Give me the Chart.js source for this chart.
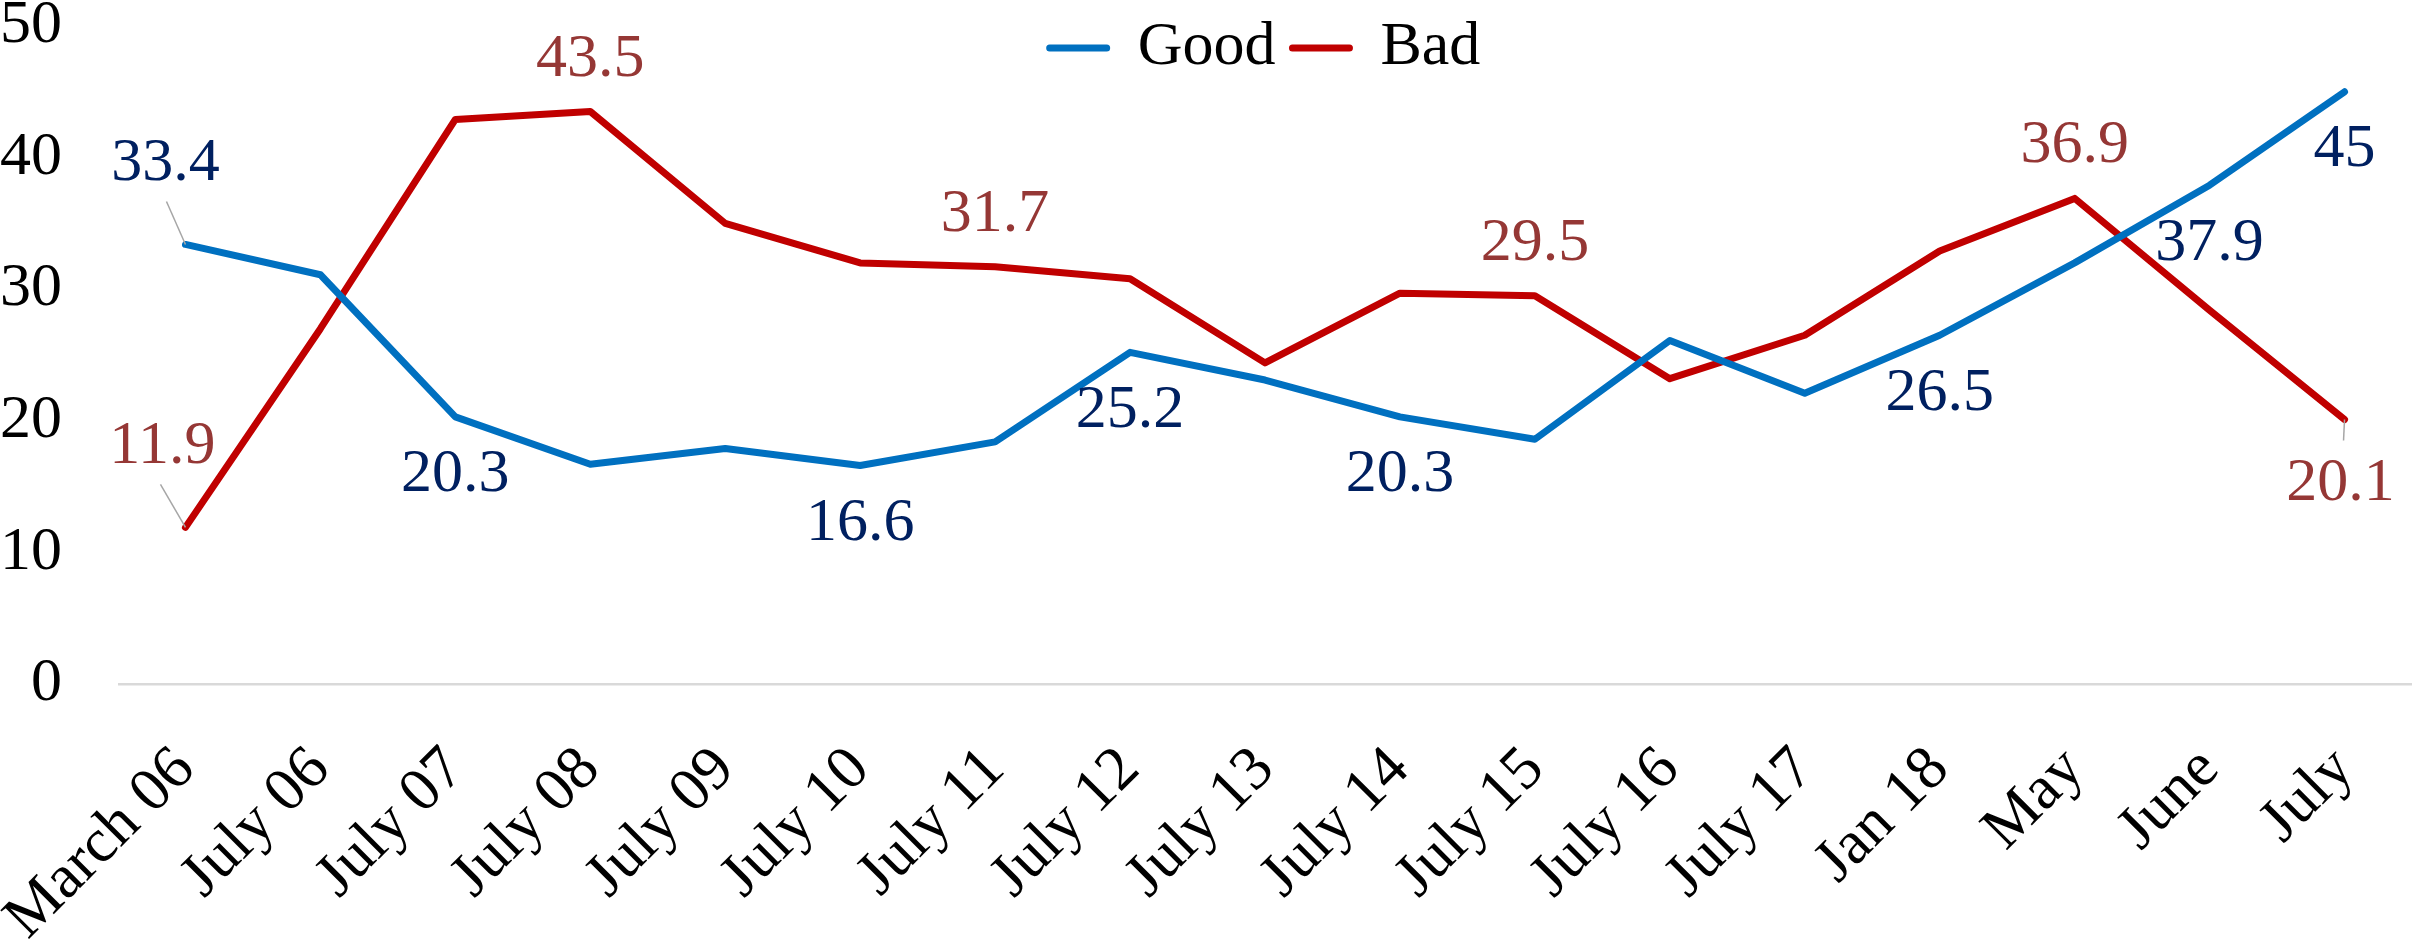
<!DOCTYPE html>
<html>
<head>
<meta charset="utf-8">
<title>Good / Bad</title>
<script src="https://cdn.jsdelivr.net/npm/chart.js@4.4.1/dist/chart.umd.min.js"></script>
<style>
  html, body { margin: 0; padding: 0; background: #fff; }
  #wrap { width: 2412px; height: 939px; }
</style>
</head>
<body>
<div id="wrap"><canvas id="chart" width="2412" height="939"></canvas></div>
<script>
// Categories and series
const categories = ['March 06', 'July 06', 'July 07', 'July 08', 'July 09', 'July 10', 'July 11',
    'July 12', 'July 13', 'July 14', 'July 15', 'July 16', 'July 17', 'Jan 18', 'May', 'June', 'July'];
const goodValues = [33.4, 31.1, 20.3, 16.7, 17.9, 16.6, 18.4, 25.2, 23.1, 20.3, 18.6, 26.1, 22.1, 26.5, 32.0, 37.9, 45];
const badValues = [11.9, 27.0, 42.9, 43.5, 35.0, 32.0, 31.7, 30.8, 24.4, 29.7, 29.5, 23.2, 26.5, 32.9, 36.9, 28.4, 20.1];
const yTicks = [0, 10, 20, 30, 40, 50];

// Which points carry a value label
const goodLabeled = [0, 2, 5, 7, 9, 13, 15, 16];
const badLabeled = [0, 3, 6, 10, 14, 16];

// Label placement (pixel offsets of the text centre from the point)
const goodLabelOffsets = [[-20, -81], [0, 58], [0, 58], [0, 58], [0, 58], [0, 58], [0, 58], [0, 58]];
const badLabelOffsets = [[-23, -81], [0, -52], [0, -52], [0, -52], [0, -53], [-4, 64]];
// leader lines: dataset index -> point index -> end offset
const leaders = {
    0: { 0: [-19, -43] },
    1: { 0: [-25, -43], 16: [-1, 21] }
};

const serif = '"Liberation Serif", "Times New Roman", serif';
Chart.defaults.font.family = serif;
Chart.defaults.color = '#000';

const pointLabels = {
    id: 'pointLabels',
    beforeDraw(chart) {
        // the legend only reserves a thin strip; let it paint over the plot top like the original
        const lg = chart.legend;
        if (lg) {
            lg.bottom = lg.top + 110;
            lg.height = 110;
        }
    },
    afterDatasetsDraw(chart) {
        const ctx = chart.ctx;
        const sets = [
            { idx: goodLabeled, off: goodLabelOffsets, color: '#002060' },
            { idx: badLabeled, off: badLabelOffsets, color: '#953735' }
        ];
        ctx.save();
        sets.forEach((s, di) => {
            const meta = chart.getDatasetMeta(di);
            const values = chart.data.datasets[di].data;
            s.idx.forEach((i, k) => {
                const pt = meta.data[i];
                const lead = leaders[di] && leaders[di][i];
                if (lead) {
                    ctx.strokeStyle = '#A6A6A6';
                    ctx.lineWidth = 1.5;
                    ctx.beginPath();
                    ctx.moveTo(pt.x, pt.y);
                    ctx.lineTo(pt.x + lead[0], pt.y + lead[1]);
                    ctx.stroke();
                }
                ctx.fillStyle = s.color;
                ctx.font = '62px ' + serif;
                ctx.textAlign = 'center';
                ctx.textBaseline = 'middle';
                ctx.fillText(String(values[i]), pt.x + s.off[k][0], pt.y + s.off[k][1]);
            });
        });
        ctx.restore();
    }
};

new Chart(document.getElementById('chart'), {
    type: 'line',
    data: {
        labels: categories,
        datasets: [
            {
                label: 'Good',
                data: goodValues,
                borderColor: '#0070C0',
                backgroundColor: '#0070C0',
                pointBorderColor: '#0070C0'
            },
            {
                label: 'Bad',
                data: badValues,
                borderColor: '#C00000',
                backgroundColor: '#C00000',
                pointBorderColor: '#C00000'
            }
        ]
    },
    options: {
        responsive: false,
        animation: false,
        devicePixelRatio: 1,
        layout: { padding: 0 },
        elements: {
            line: { borderWidth: 7, tension: 0, borderCapStyle: 'round', borderJoinStyle: 'round' },
            point: { radius: 0, hoverRadius: 0 }
        },
        scales: {
            x: {
                offset: true,
                grid: { display: false },
                border: { display: false },
                afterFit: scale => {
                    scale.height = 255;
                    scale.paddingLeft = 0;
                    scale.paddingRight = 0;
                },
                ticks: {
                    autoSkip: false,
                    minRotation: 45,
                    maxRotation: 45,
                    padding: 50,
                    color: '#000',
                    font: { size: 62, lineHeight: 0.8 }
                }
            },
            y: {
                min: 0,
                max: 50,
                afterBuildTicks: scale => {
                    scale.ticks = yTicks.map(v => ({ value: v }));
                },
                afterFit: scale => {
                    scale.width = 118;
                    scale.paddingTop = 0;
                    scale.paddingBottom = 0;
                },
                border: { display: false },
                grid: {
                    drawTicks: false,
                    lineWidth: 2.5,
                    color: c => (c.tick && c.tick.value === 0 ? '#D9D9D9' : 'rgba(0,0,0,0)')
                },
                ticks: {
                    padding: 56,
                    color: '#000',
                    font: { size: 62, lineHeight: 0.8 }
                }
            }
        },
        plugins: {
            legend: {
                position: 'top',
                fullSize: false,
                maxHeight: 26,
                labels: {
                    usePointStyle: true,
                    pointStyle: 'line',
                    pointStyleWidth: 57,
                    padding: 17,
                    color: '#000',
                    font: { size: 62 },
                    generateLabels: chart => Chart.defaults.plugins.legend.labels.generateLabels(chart)
                        .map(item => Object.assign(item, { lineWidth: 7, lineCap: 'round' }))
                }
            },
            tooltip: { enabled: false }
        }
    },
    plugins: [pointLabels]
});
</script>
</body>
</html>
